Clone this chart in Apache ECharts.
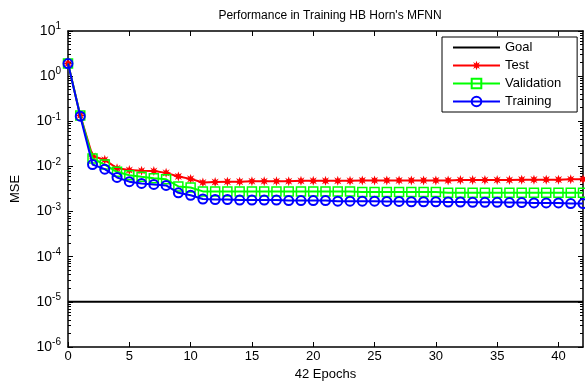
<!DOCTYPE html>
<html>
<head>
<meta charset="utf-8">
<script src="https://cdn.jsdelivr.net/npm/echarts@6/dist/echarts.min.js"></script>
<style>
  html, body { margin: 0; padding: 0; background: #fff; }
  #chart { width: 585px; height: 381px; }
</style>
</head>
<body>
<div id="chart"></div>
<script>
// Training curves of the HB horn MFNN, MSE per epoch
const epochs = Array.from({ length: 43 }, (_, i) => i);

const goalMSE = 1e-5;

const testMSE = [
  1.9, 0.135, 0.017, 0.014, 0.0091, 0.0083, 0.0080, 0.0079, 0.0072, 0.0060,
  0.0053, 0.0044, 0.0045, 0.0046, 0.0046, 0.0047, 0.0047, 0.0047, 0.0047, 0.0048,
  0.0048, 0.0048, 0.0048, 0.0048, 0.0049, 0.0049, 0.0049, 0.0049, 0.0049, 0.0049,
  0.0049, 0.0049, 0.0050, 0.0050, 0.0050, 0.0050, 0.0050, 0.0051, 0.0051, 0.0051,
  0.0051, 0.0052, 0.0052
];

const validationMSE = [
  1.9, 0.135, 0.015, 0.011, 0.0076, 0.0064, 0.0059, 0.0055, 0.0052, 0.0036,
  0.0034, 0.0028, 0.0028, 0.0028, 0.0028, 0.0028, 0.0028, 0.0028, 0.0028, 0.0028,
  0.0028, 0.0028, 0.0028, 0.0028, 0.0027, 0.0027, 0.0027, 0.0027, 0.0027, 0.0027,
  0.0027, 0.0026, 0.0026, 0.0026, 0.0026, 0.0026, 0.0026, 0.0026, 0.0026, 0.0026,
  0.0026, 0.0026, 0.0026
];

const trainingMSE = [
  1.9, 0.13, 0.011, 0.0087, 0.0057, 0.0046, 0.0042, 0.0040, 0.0038, 0.0026,
  0.0023, 0.0019, 0.00185, 0.00185, 0.0018, 0.0018, 0.0018, 0.0018, 0.00175, 0.00175,
  0.00175, 0.00175, 0.0017, 0.0017, 0.0017, 0.0017, 0.00168, 0.00168, 0.00165, 0.00165,
  0.00165, 0.00163, 0.00163, 0.0016, 0.0016, 0.0016, 0.00158, 0.00158, 0.00155, 0.00155,
  0.00155, 0.0015, 0.0015
];

const xTicks = [0, 5, 10, 15, 20, 25, 30, 35, 40];
const yDecades = [-6, -5, -4, -3, -2, -1, 0, 1];
const minorMantissas = [2, 3, 4, 5, 6, 7, 8, 9];

const FONT = 'Liberation Sans';

// minor tick positions (2..9 per decade) in log10 space
const minorTicks = [];
yDecades.slice(0, -1).forEach(d => minorMantissas.forEach(m => minorTicks.push(Math.log10(m) + d)));

const pairs = arr => arr.map((v, i) => [epochs[i], v]);

// eight-pointed asterisk-like marker
const asterisk = 'path://M5,0 L2.1,1 L3.536,3.536 L1,2.1 L0,5 L-1,2.1 L-3.536,3.536 L-2.1,1 L-5,0 L-2.1,-1 L-3.536,-3.536 L-1,-2.1 L0,-5 L1,-2.1 L3.536,-3.536 L2.1,-1 Z';

const frameLine = { show: true, onZero: false, lineStyle: { color: '#000', width: 1.5 } };

const chart = echarts.init(document.getElementById('chart'), null, { renderer: 'canvas' });

chart.setOption({
  animation: false,
  backgroundColor: '#fff',
  title: {
    text: "Performance in Training HB Horn's MFNN",
    left: 325, top: 5, textAlign: 'center',
    textStyle: { fontFamily: FONT, fontSize: 12, fontWeight: 'normal', color: '#000' }
  },
  grid: { left: 68, top: 31, right: 2, bottom: 34, outerBoundsMode: 'none', containLabel: false },
  legend: {
    orient: 'vertical',
    left: 442, top: 37,
    padding: [4, 16, 4, 10],
    backgroundColor: '#fff',
    borderColor: '#000', borderWidth: 1,
    itemWidth: 47, itemHeight: 12, itemGap: 5,
    textStyle: { fontFamily: FONT, fontSize: 13, color: '#000' },
    data: [
      { name: 'Goal', itemStyle: { opacity: 0 } },
      'Test', 'Validation', 'Training'
    ]
  },
  xAxis: [
    {
      type: 'value', min: 0, max: 42, interval: 5, position: 'bottom',
      name: '42 Epochs', nameLocation: 'middle', nameGap: 15,
      nameTextStyle: { fontFamily: FONT, fontSize: 13, color: '#000' },
      axisLine: frameLine,
      axisTick: { inside: true, length: 5, lineStyle: { color: '#000', width: 1 }, customValues: xTicks },
      axisLabel: { customValues: xTicks, fontFamily: FONT, fontSize: 13, color: '#000', margin: 3 },
      splitLine: { show: false }
    },
    {
      type: 'value', min: 0, max: 42, interval: 5, position: 'top',
      axisLine: frameLine,
      axisTick: { inside: true, length: 5, lineStyle: { color: '#000', width: 1 }, customValues: xTicks },
      axisLabel: { show: false },
      splitLine: { show: false }
    }
  ],
  yAxis: [
    {
      type: 'log', logBase: 10, min: 1e-6, max: 10, interval: 1, position: 'left',
      name: 'MSE', nameLocation: 'middle', nameGap: 46, nameRotate: 90,
      nameTextStyle: { fontFamily: FONT, fontSize: 13, color: '#000' },
      axisLine: frameLine,
      axisTick: { inside: true, length: 5, lineStyle: { color: '#000', width: 1 } },
      axisLabel: {
        margin: 7,
        formatter: v => '{b|10}{e|' + Math.round(Math.log10(v)) + '}',
        rich: {
          b: { fontFamily: FONT, fontSize: 14, color: '#000' },
          e: { fontFamily: FONT, fontSize: 10, color: '#000', padding: [0, 0, 9, 0] }
        }
      },
      splitLine: { show: false }
    },
    {
      type: 'value', min: -6, max: 1, position: 'left',
      axisLine: { show: false, onZero: false },
      axisTick: { inside: true, length: 3, lineStyle: { color: '#000', width: 1 }, customValues: minorTicks },
      axisLabel: { show: false },
      splitLine: { show: false }
    },
    {
      type: 'value', min: -6, max: 1, position: 'right',
      axisLine: frameLine,
      axisTick: { inside: true, length: 5, lineStyle: { color: '#000', width: 1 }, customValues: yDecades },
      axisLabel: { show: false },
      splitLine: { show: false }
    },
    {
      type: 'value', min: -6, max: 1, position: 'right',
      axisLine: { show: false, onZero: false },
      axisTick: { inside: true, length: 3, lineStyle: { color: '#000', width: 1 }, customValues: minorTicks },
      axisLabel: { show: false },
      splitLine: { show: false }
    }
  ],
  series: [
    {
      name: 'Goal', type: 'line', yAxisIndex: 0,
      data: [[epochs[0], goalMSE], [epochs[epochs.length - 1], goalMSE]],
      symbol: 'none', color: '#000',
      lineStyle: { color: '#000', width: 2 }
    },
    {
      name: 'Test', type: 'line', yAxisIndex: 0, data: pairs(testMSE),
      symbol: asterisk, symbolSize: 10, color: '#ff0000',
      lineStyle: { color: '#ff0000', width: 2 },
      itemStyle: { color: '#ff0000' }, z: 3
    },
    {
      name: 'Validation', type: 'line', yAxisIndex: 0, data: pairs(validationMSE),
      symbol: 'rect', symbolSize: 9, color: '#00ff00',
      lineStyle: { color: '#00ff00', width: 2 },
      itemStyle: { color: 'rgba(255,255,255,0)', borderColor: '#00ff00', borderWidth: 1.5 }, z: 4
    },
    {
      name: 'Training', type: 'line', yAxisIndex: 0, data: pairs(trainingMSE),
      symbol: 'circle', symbolSize: 9, color: '#0000ff',
      lineStyle: { color: '#0000ff', width: 2 },
      itemStyle: { color: 'rgba(255,255,255,0)', borderColor: '#0000ff', borderWidth: 2 }, z: 5
    }
  ]
});
</script>
</body>
</html>
